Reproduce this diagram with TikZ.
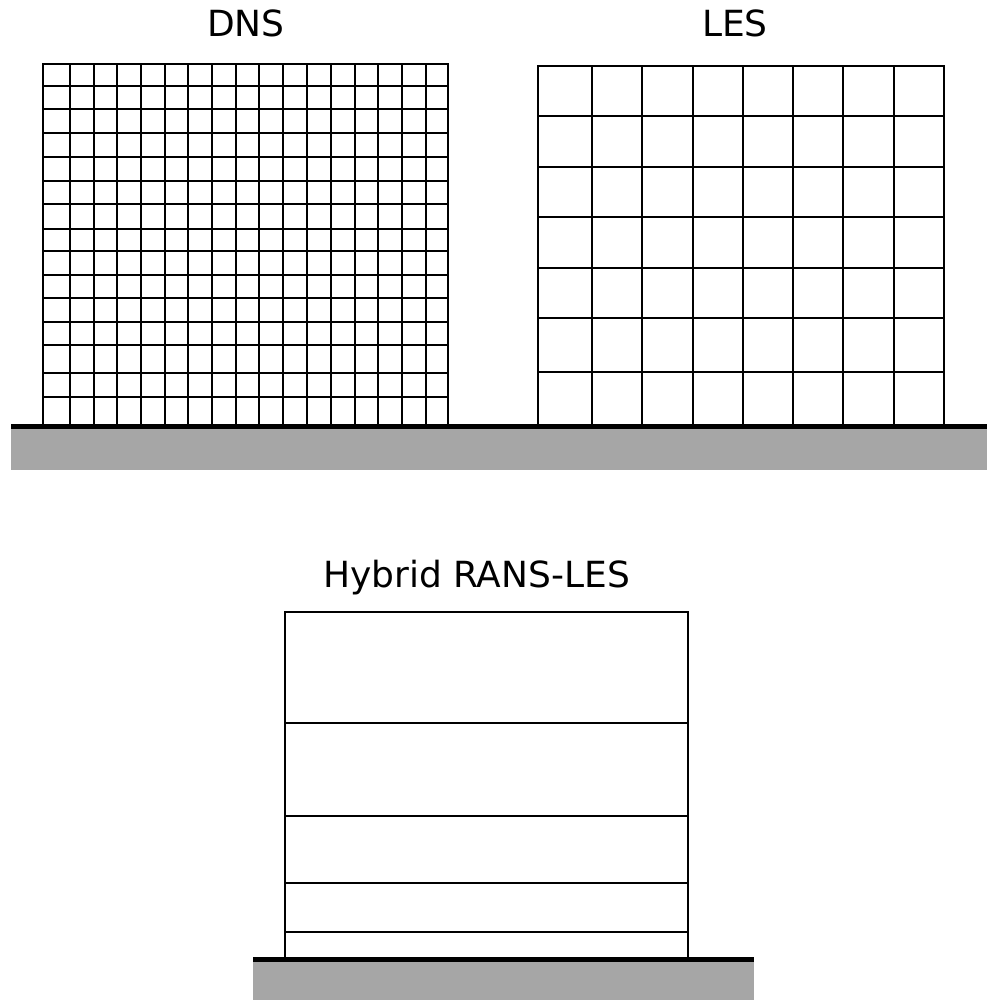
\documentclass[tikz,border=0pt]{standalone}
\usepackage{fontspec}
\setmainfont{DejaVu Sans}
\definecolor{groundgray}{HTML}{A6A6A6}
\begin{document}
\begin{tikzpicture}[x=1pt,y=-1pt,
  gridline/.style={line width=2pt,black},
  frame/.style={line width=2.6pt,black,line cap=rect},
  wall/.style={line width=5pt,black},
  ground/.style={fill=groundgray,draw=none},
  title/.style={font=\fontsize{36}{40}\selectfont,anchor=base,inner sep=0pt}]
\useasboundingbox (0,0) rectangle (987,1000);
% ground strips
\fill[ground] (11,428) rectangle (987,470);
\draw[wall] (11,426) -- (987,426);
\fill[ground] (253,961) rectangle (754,1000);
\draw[wall] (253,959) -- (754,959);
% DNS grid
\foreach \x in {70,93.7,117.3,141,164.7,188.3,212,235.7,259.3,283.3,307,331,354.7,378.3,402,425.7}
  \draw[gridline] (\x,64) -- (\x,424);
\foreach \y in {85.7,109,133,156.7,180.7,204,228.7,251,275.3,298,322,345.3,373.3,397.3}
  \draw[gridline] (43,\y) -- (448,\y);
\draw[frame] (43,424) -- (43,64) -- (448,64) -- (448,424);
% LES grid
\foreach \x in {591.7,642,692.7,743,793.3,843.3,893.7}
  \draw[gridline] (\x,66) -- (\x,425);
\foreach \y in {115.7,166.7,216.7,267.7,317.7,372.3}
  \draw[gridline] (538,\y) -- (944,\y);
\draw[frame] (538,425) -- (538,66) -- (944,66) -- (944,425);
% Hybrid grid
\foreach \y in {723.3,815.7,883.3,932.3}
  \draw[gridline] (285,\y) -- (688,\y);
\draw[frame] (285,958) -- (285,612) -- (688,612) -- (688,958);
% titles
\node[title] (dns) at (246,37) {DNS};
\node[title] (les) at (735,37) {LES};
\node[title] (hyb) at (476.5,587) {Hybrid RANS-LES};
\end{tikzpicture}
\end{document}
